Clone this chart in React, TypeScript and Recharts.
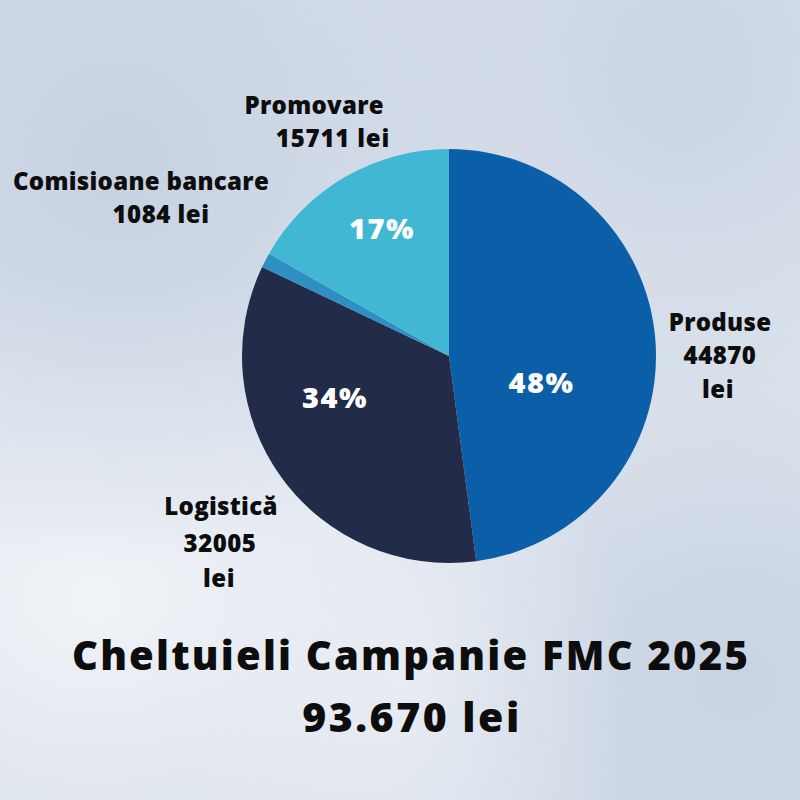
import { Cell, Pie, PieChart } from "recharts";

const categories = ["Produse", "Logistică", "Comisioane bancare", "Promovare"];
const amounts = [44870, 32005, 1084, 15711];
const sliceColors = ["#0b5fa8", "#222b48", "#2d8fc2", "#41b7d3"];

const TITLE = "Cheltuieli Campanie FMC 2025";
const TOTAL_TEXT = "93.670 lei";

// where the white percent text sits inside each slice (radius fraction, angle nudge in deg)
const PCT_POS = [
  { r: 0.463, da: -18.9 },
  { r: 0.584, da: -16.7 },
  { r: 0, da: 0 },
  { r: 0.7, da: -2.6 },
];

const total = amounts.reduce((s, v) => s + v, 0);
const chartData = categories.map((name, i) => ({ name, value: amounts[i] }));

const RAD = Math.PI / 180;
const FONT = "'Open Sans', Lato, sans-serif";

function PctLabel(props: any) {
  const { cx, cy, midAngle, outerRadius, index, value } = props;
  const pct = Math.round((value / total) * 100);
  if (pct < 5) return null;
  const p = PCT_POS[index];
  const a = (midAngle + p.da) * RAD;
  const x = cx + outerRadius * p.r * Math.cos(a);
  const y = cy - outerRadius * p.r * Math.sin(a);
  return (
    <text
      x={x}
      y={y}
      fill="#ffffff"
      textAnchor="middle"
      dominantBaseline="central"
      fontFamily={FONT}
      fontWeight={800}
      fontSize={29}
      letterSpacing={1.5}
    >
      {pct}%
    </text>
  );
}

const TXT = { fontFamily: FONT, fontWeight: 800, fill: "#0d0d0d", fontSize: 24 } as const;

export default function App() {
  return (
    <div
      style={{
        position: "fixed",
        left: 0,
        top: 0,
        width: 800,
        height: 800,
        overflow: "hidden",
        background:
          "radial-gradient(ellipse at 15% 20%, #c6d1e1 0%, rgba(198,209,225,0) 45%)," +
          "radial-gradient(ellipse at 85% 10%, #ccd6e4 0%, rgba(204,214,228,0) 40%)," +
          "radial-gradient(ellipse at 12% 75%, #f0f3f7 0%, rgba(240,243,247,0) 40%)," +
          "radial-gradient(ellipse at 50% 85%, #e6ebf2 0%, rgba(230,235,242,0) 40%)," +
          "radial-gradient(ellipse at 92% 85%, #c9d4e3 0%, rgba(201,212,227,0) 40%)," +
          "linear-gradient(180deg, #d8e0ea 0%, #e0e6ee 50%, #d6dee9 100%)",
      }}
    >
      <PieChart
        width={800}
        height={800}
        margin={{ top: 0, right: 0, bottom: 0, left: 0 }}
        style={{ position: "absolute", left: 0, top: 0 }}
      >
        <Pie
          data={chartData}
          dataKey="value"
          nameKey="name"
          cx={449}
          cy={356}
          outerRadius={207}
          startAngle={90}
          endAngle={-270}
          stroke="none"
          labelLine={false}
          label={PctLabel}
          isAnimationActive={false}
        >
          {chartData.map((d, i) => (
            <Cell key={d.name} fill={sliceColors[i]} />
          ))}
        </Pie>
      </PieChart>

      <svg width={800} height={800} style={{ position: "absolute", left: 0, top: 0 }}>
        {/* Promovare */}
        <text {...TXT} x={384} y={114} textAnchor="end" letterSpacing={0.3}>
          {categories[3]}
        </text>
        <text {...TXT} x={390} y={147} textAnchor="end" letterSpacing={0.8}>
          {amounts[3]} lei
        </text>
        {/* Comisioane bancare */}
        <text {...TXT} x={141} y={190} textAnchor="middle" letterSpacing={0.3}>
          {categories[2]}
        </text>
        <text {...TXT} x={161} y={223} textAnchor="middle" letterSpacing={0.5}>
          {amounts[2]} lei
        </text>
        {/* Produse */}
        <text {...TXT} x={720} y={331} textAnchor="middle" letterSpacing={0.3}>
          {categories[0]}
        </text>
        <text {...TXT} x={720} y={364} textAnchor="middle" letterSpacing={0.5}>
          {amounts[0]}
        </text>
        <text {...TXT} x={718} y={398} textAnchor="middle" letterSpacing={0.5}>
          lei
        </text>
        {/* Logistică */}
        <text {...TXT} x={221} y={515} textAnchor="middle" letterSpacing={0.3}>
          {categories[1]}
        </text>
        <text {...TXT} x={220} y={552} textAnchor="middle" letterSpacing={0.5}>
          {amounts[1]}
        </text>
        <text {...TXT} x={219} y={587} textAnchor="middle" letterSpacing={0.5}>
          lei
        </text>
        {/* title */}
        <text {...TXT} fontSize={40} x={411} y={670} textAnchor="middle" letterSpacing={2.2}>
          {TITLE}
        </text>
        <text {...TXT} fontSize={41} x={412} y={732} textAnchor="middle" letterSpacing={2.5}>
          {TOTAL_TEXT}
        </text>
      </svg>
    </div>
  );
}
